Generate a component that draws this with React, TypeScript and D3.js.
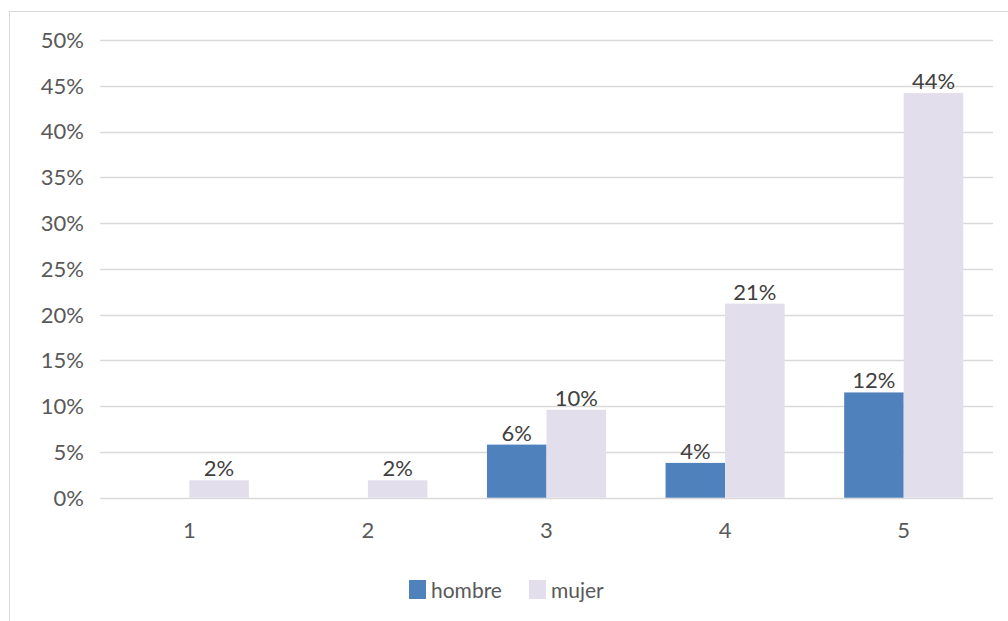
import React from "react";
import * as d3 from "d3";

const categories = ["1", "2", "3", "4", "5"];
const hombre: (number | null)[] = [null, null, 0.058, 0.038, 0.115];
const mujer: (number | null)[] = [0.019, 0.019, 0.096, 0.212, 0.442];
const hombreLabels = ["", "", "6%", "4%", "12%"];
const mujerLabels = ["2%", "2%", "10%", "21%", "44%"];
const yTicks = [0, 0.05, 0.1, 0.15, 0.2, 0.25, 0.3, 0.35, 0.4, 0.45, 0.5];
const seriesNames = ["hombre", "mujer"];
const seriesColors = ["#4F81BD", "#E3DEEB"];

const W = 1008;
const H = 621;
const FONT = "Lato, 'Open Sans', sans-serif";

export default function App() {
  const x = d3.scaleBand<string>().domain(categories).range([100, 993]).paddingInner(0).paddingOuter(0);
  const y = d3.scaleLinear().domain([0, 0.5]).range([497.7, 40]);
  const barW = x.bandwidth() / 3;
  const fmt = d3.format(".0%");
  const series = [
    { name: seriesNames[0], values: hombre, labels: hombreLabels, color: seriesColors[0], offset: 0 },
    { name: seriesNames[1], values: mujer, labels: mujerLabels, color: seriesColors[1], offset: 1 },
  ];
  return (
    <svg width={W} height={H} style={{ position: "absolute", left: 0, top: 0, background: "#fff" }}>
      <rect x={9.5} y={11.5} width={1010} height={620} fill="#fff" stroke="#D9D9D9" strokeWidth={1} />
      {yTicks.map((t) => (
        <g key={t}>
          <line x1={100} x2={993} y1={Math.round(y(t)) + 0.5} y2={Math.round(y(t)) + 0.5} stroke="#D9D9D9" strokeWidth={1.3} />
          <text x={84} y={y(t)} dy="0.36em" textAnchor="end" fontFamily={FONT} fontSize={22} fill="#595959">
            {fmt(t)}
          </text>
        </g>
      ))}
      {series.map((s) =>
        categories.map((c, i) => {
          const v = s.values[i];
          if (v == null) return null;
          const bx = (x(c) as number) + barW * (0.5 + s.offset);
          return (
            <g key={s.name + c}>
              <rect x={bx} y={y(v)} width={barW} height={y(0) - y(v)} fill={s.color} />
              <text x={bx + barW / 2} y={y(v) - 4} textAnchor="middle" fontFamily={FONT} fontSize={22} fill="#404040">
                {s.labels[i]}
              </text>
            </g>
          );
        })
      )}
      {categories.map((c) => (
        <text key={c} x={(x(c) as number) + x.bandwidth() / 2} y={538} textAnchor="middle" fontFamily={FONT} fontSize={22} fill="#595959">
          {c}
        </text>
      ))}
      <g>
        <rect x={409} y={580} width={17} height={19} fill={seriesColors[0]} />
        <text x={431} y={598} fontFamily={FONT} fontSize={21} fill="#595959">{seriesNames[0]}</text>
        <rect x={529} y={580} width={17} height={19} fill={seriesColors[1]} />
        <text x={551} y={598} fontFamily={FONT} fontSize={21} fill="#595959">{seriesNames[1]}</text>
      </g>
    </svg>
  );
}
